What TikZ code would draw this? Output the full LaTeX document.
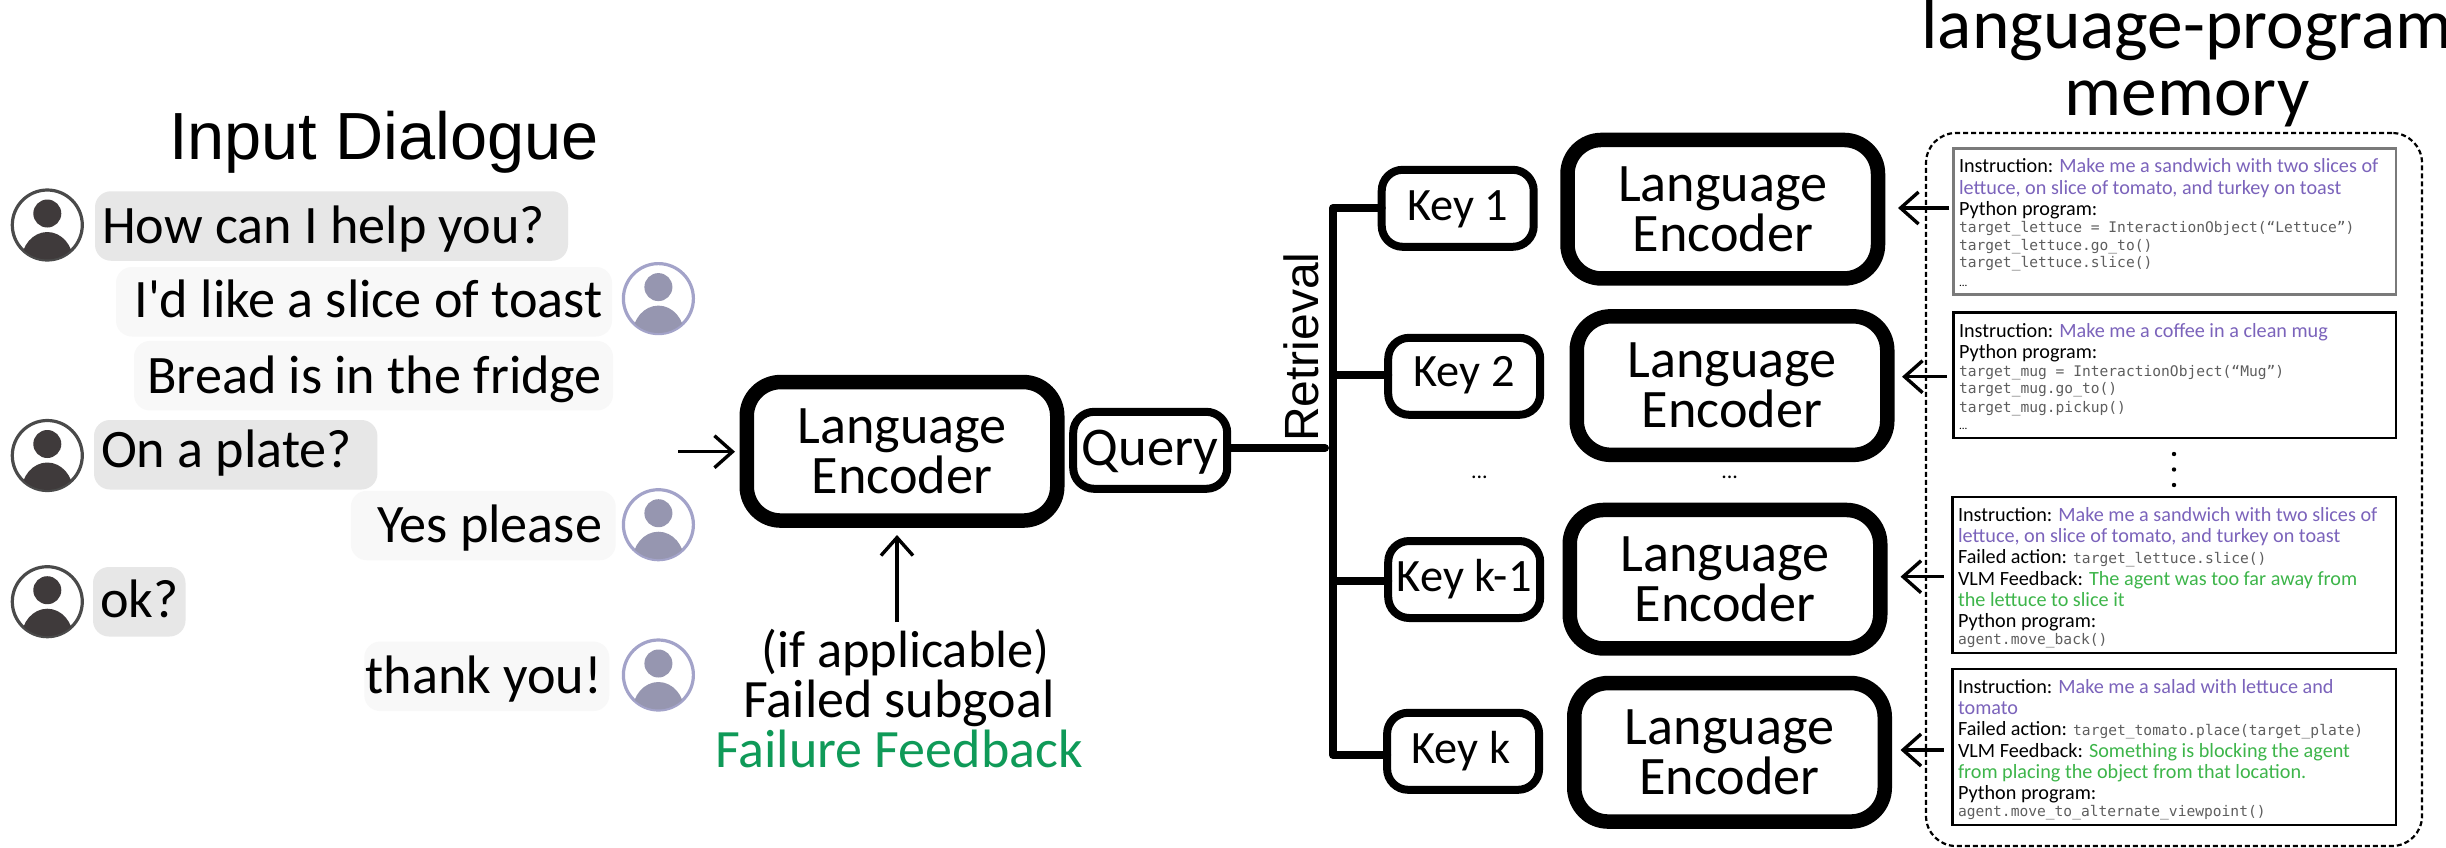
\documentclass[tikz,border=0pt]{standalone}
\usepackage{fontspec}
\setmainfont{Carlito}
\setmonofont{DejaVu Sans Mono}
\newfontfamily\arialf{Liberation Sans}
\newfontfamily\plainf{Carlito}
\usetikzlibrary{arrows.meta}
\definecolor{ldark}{HTML}{3F3A3B}
\definecolor{lring}{HTML}{4A4A4A}
\definecolor{rdark}{HTML}{9696B0}
\definecolor{rring}{HTML}{A3A3C9}
\definecolor{bubdark}{HTML}{E7E7E7}
\definecolor{bublight}{HTML}{F8F8F8}
\definecolor{instr}{HTML}{7B63BB}
\definecolor{vlm}{HTML}{3DB54A}
\definecolor{fbgreen}{HTML}{0F9A58}
\definecolor{codegray}{HTML}{5E5E5E}
\newcommand\codet[1]{{\ttfamily\fontsize{7.3}{8}\selectfont\color{codegray}#1}}
\newcommand\ins[1]{\textcolor{instr}{#1}}
\newcommand\vl[1]{\textcolor{vlm}{#1}}
\newcommand\tinydots{{\fontsize{5.6}{6}\selectfont ...}}
\tikzset{
  x=0.5pt,y=-0.5pt,
  encbox/.style={draw=black,line width=7.25pt,rounded corners=17pt,fill=white,outer sep=0pt,inner sep=0pt,
    minimum width=155.25pt,minimum height=69.25pt,align=center,font=\fontsize{27.1}{25}\selectfont},
  keybox/.style={draw=black,line width=4pt,rounded corners=10.5pt,fill=white,outer sep=0pt,inner sep=0pt,
    minimum width=76pt,minimum height=38.5pt,text height=12pt,text depth=0pt,font=\fontsize{23.2}{24}\selectfont},
  querybox/.style={keybox,minimum width=77pt,minimum height=38.5pt,text height=15pt,font=\fontsize{27.3}{28}\selectfont},
  memline/.style={draw=black,line width=1.25pt},
  membox/.style={memline,inner sep=0pt,outer sep=0pt,minimum width=221.25pt},
  boxtxt/.style={anchor=base west,inner sep=0pt,outer sep=0pt,font=\fontsize{10.1}{11}\selectfont},
  bubleft/.style={fill=bubdark,rounded corners=8pt,inner xsep=3.5pt,inner ysep=0pt,outer sep=0pt,minimum height=34.75pt,
    text depth=0pt,font=\fontsize{27.1}{28}\selectfont},
  bubright/.style={fill=bublight,rounded corners=8pt,inner ysep=0pt,outer sep=0pt,minimum height=34.75pt,
    text depth=0pt,font=\fontsize{27.1}{28}\selectfont},
  arr/.style={line width=1.7pt,-{Straight Barb[length=9pt,width=16pt,line width=1.7pt]}},
  wire/.style={line width=4pt,line cap=round,line join=round},
  titletxt/.style={inner sep=0pt,outer sep=0pt,anchor=base,font=\fontsize{35.7}{36}\selectfont},
}
\newcommand\bl[4]{\node[boxtxt] (#1) at (#2,#3) {#4};}
\newcommand\avatar[5]{% name x y fill ring
  \node[circle,draw=#5,line width=1.6pt,minimum size=35pt,inner sep=0pt,outer sep=0pt,fill=white] (#1) at (#2,#3) {};
  \begin{scope}
    \clip (#2,#3) circle[radius=17.2pt];
    \fill[#4] (#2,#3+37) ellipse[x radius=13pt,y radius=15pt];
  \end{scope}
  \node[circle,fill=#4,minimum size=14pt,inner sep=0pt,outer sep=0pt] (#1head) at (#2,#3-11.5) {};
}
\begin{document}
\begin{tikzpicture}
\useasboundingbox (0,0) rectangle (2446,847);
\fill[white] (0,0) rectangle (2446,847);

% titles
\node[inner sep=0pt,outer sep=0pt,anchor=base west,font=\arialf\fontsize{33.35}{34}\selectfont] (inputtitle) at (169,159) {Input Dialogue};
\node[titletxt] (memtitlea) at (2187,48) {language-program};
\node[titletxt] (memtitleb) at (2187,115) {memory};

% dialogue
\node[bubleft,text height=17pt] (b1) at (331.5,226) {\makebox[229.5pt][l]{How can I help you?}};
\node[bubright,inner xsep=4.8pt,text height=16pt] (b2) at (364,301.75) {\makebox[238.4pt][r]{\plainf I'd like a slice of toast}};
\node[bubright,inner xsep=5.5pt,text height=17.7pt] (b3) at (373.5,375.7) {\makebox[228.5pt][r]{Bread is in the fridge}};
\node[bubleft,text height=13pt] (b4) at (235.7,454.75) {\makebox[134.7pt][l]{On a plate?}};
\node[bubright,inner xsep=6.8pt,text height=17pt] (b5) at (483.3,525.5) {\makebox[118.8pt][r]{Yes please}};
\node[bubleft,text height=15.75pt] (b6) at (139.25,601.75) {\makebox[39.25pt][l]{ok?}};
\node[bubright,inner xsep=3.6pt,text height=17pt] (b7) at (486.8,676.3) {\makebox[115.3pt][r]{thank you!}};

\avatar{al1}{47.3}{225}{ldark}{lring}
\avatar{al2}{47.3}{455.5}{ldark}{lring}
\avatar{al3}{47.3}{601.7}{ldark}{lring}
\avatar{ar1}{658.4}{298.6}{rdark}{rring}
\avatar{ar2}{658.4}{524.7}{rdark}{rring}
\avatar{ar3}{658.4}{675}{rdark}{rring}

% encoders and keys
\node[encbox] (enc0) at (902,451.3) {Language\\Encoder};
\node[querybox] (query) at (1150.2,450.3) {Query};
\node[encbox] (enc1) at (1722.75,209.2) {Language\\Encoder};
\node[encbox] (enc2) at (1732,385.6) {Language\\Encoder};
\node[encbox] (enc3) at (1725,579.2) {Language\\Encoder};
\node[encbox] (enc4) at (1729.5,752.3) {Language\\Encoder};
\node[keybox] (key1) at (1457.7,208.3) {Key 1};
\node[keybox,text height=10pt] (key2) at (1464.2,376.3) {Key 2};
\node[keybox] (key3) at (1464.2,579.5) {Key k-1};
\node[keybox] (key4) at (1463.1,751.3) {Key k\kern2.2pt};
\node[inner sep=0pt,anchor=base,font=\fontsize{11}{12}\selectfont] (dotsk) at (1479.4,478) {...};
\node[inner sep=0pt,anchor=base,font=\fontsize{11}{12}\selectfont] (dotse) at (1729.6,478) {...};

% retrieval trunk
\coordinate (ttop) at (1333,208);
\coordinate (tbot) at (1333,755);
\coordinate (tk2) at (1333,375);
\coordinate (tk3) at (1333,581);
\coordinate (qend) at (1325,448);
\draw[wire] (ttop -| key1.west) -- (ttop) -- (tbot) -- (tbot -| key4.west);
\draw[wire] (tk2) -- (tk2 -| key2.west);
\draw[wire] (tk3) -- (tk3 -| key3.west);
\draw[wire] (qend -| query.east) -- (qend);
\node[inner sep=0pt,outer sep=0pt,anchor=base,rotate=90,font=\arialf\fontsize{24}{25}\selectfont] (retrieval) at (1318,347) {Retrieval};

% feedback
\node[inner sep=0pt,outer sep=0pt,anchor=north,align=center,font=\fontsize{27}{25}\selectfont] (fb) at (899,629)
  {\hspace*{6.5pt}{\fontsize{26.2}{25}\selectfont (if applicable)}\\Failed subgoal\\\textcolor{fbgreen}{Failure Feedback}};
\coordinate (upfrom) at (897,622);
\coordinate (uptip) at (897,535);
\coordinate (dlgout) at (678,451.7);
\coordinate (dlgtip) at (735,451.7);
\draw[arr] (upfrom) -- (uptip);
\draw[arr] (dlgout) -- (dlgtip);

% memory
\node[draw=black,line width=1.1pt,dash pattern=on 2.5pt off 1.5pt,rounded corners=15pt,minimum width=248pt,minimum height=356.5pt,inner sep=0pt,outer sep=0pt] (mem) at (2174,489.5) {};
\node[membox,draw=black!52,minimum height=73pt] (m1) at (2174.7,221.5) {};
\node[membox,minimum height=62.7pt] (m2) at (2174.7,375.3) {};
\node[membox,minimum width=221.75pt,minimum height=78pt] (m3) at (2174.3,575) {};
\node[membox,minimum width=221.75pt,minimum height=78pt] (m4) at (2174.3,747) {};
\fill (2174,454) circle[radius=1.1pt];
\fill (2174,469.5) circle[radius=1.1pt];
\fill (2174,485) circle[radius=1.1pt];

\coordinate (a1) at (1898,208);
\coordinate (a2) at (1902,376.7);
\coordinate (a3) at (1900.5,576.7);
\coordinate (a4) at (1900.5,750);
\coordinate (s1) at (1949,208);
\coordinate (s2) at (1947,376.7);
\coordinate (s3) at (1943.5,576.7);
\coordinate (s4) at (1943.5,750);
\draw[arr] (s1) -- (a1);
\draw[arr] (s2) -- (a2);
\draw[arr] (s3) -- (a3);
\draw[arr] (s4) -- (a4);

\bl{t1a}{1959}{172}{Instruction: \ins{Make me a sandwich with two slices of}}
\bl{t1b}{1959}{194}{\ins{lettuce, on slice of tomato, and turkey on toast}}
\bl{t1c}{1959}{215}{Python program:}
\bl{t1d}{1959}{232}{\codet{target\_lettuce = InteractionObject(“Lettuce”)}}
\bl{t1e}{1959}{250}{\codet{target\_lettuce.go\_to()}}
\bl{t1f}{1959}{267.6}{\codet{target\_lettuce.slice()}}
\bl{t1g}{1959}{286}{\tinydots}

\bl{t2a}{1959}{337}{Instruction: \ins{Make me a coffee in a clean mug}}
\bl{t2b}{1959}{358}{Python program:}
\bl{t2c}{1959}{376}{\codet{target\_mug = InteractionObject(“Mug”)}}
\bl{t2d}{1959}{393.5}{\codet{target\_mug.go\_to()}}
\bl{t2e}{1959}{412}{\codet{target\_mug.pickup()}}
\bl{t2f}{1959}{429}{\tinydots}

\bl{t3a}{1958}{521}{Instruction: \ins{Make me a sandwich with two slices of}}
\bl{t3b}{1958}{542}{\ins{lettuce, on slice of tomato, and turkey on toast}}
\bl{t3c}{1958}{563}{Failed action: \codet{target\_lettuce.slice()}}
\bl{t3d}{1958}{585}{VLM Feedback: \vl{The agent was too far away from}}
\bl{t3e}{1958}{606}{\vl{the lettuce to slice it}}
\bl{t3f}{1958}{627}{Python program:}
\bl{t3g}{1958}{644}{\codet{agent.move\_back()}}

\bl{t4a}{1958}{693.4}{Instruction: \ins{Make me a salad with lettuce and}}
\bl{t4b}{1958}{714}{\ins{tomato}}
\bl{t4c}{1958}{735}{Failed action: \codet{target\_tomato.place(target\_plate)}}
\bl{t4d}{1958}{757.5}{VLM Feedback: \vl{Something is blocking the agent}}
\bl{t4e}{1958}{778.7}{\vl{from placing the object from that location.}}
\bl{t4f}{1958}{799}{Python program:}
\bl{t4g}{1958}{816.6}{\codet{agent.move\_to\_alternate\_viewpoint()}}
\end{tikzpicture}
\end{document}
